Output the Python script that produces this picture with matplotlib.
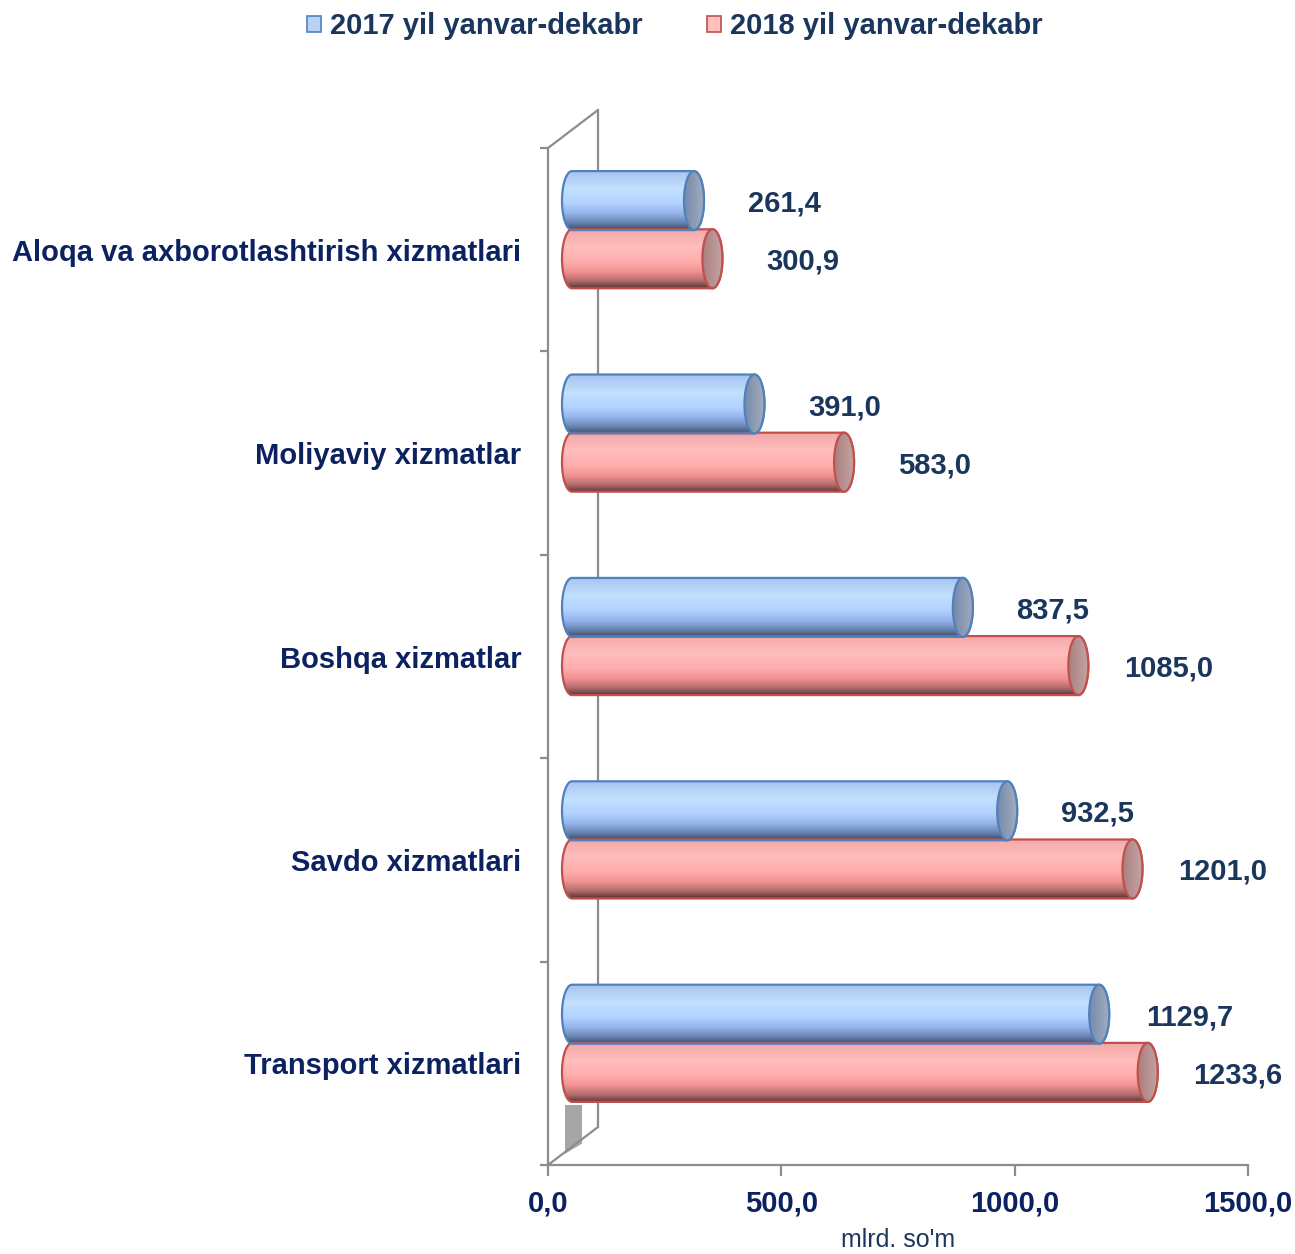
import numpy as np
import matplotlib
matplotlib.use("Agg")
import matplotlib.pyplot as plt
from matplotlib.patches import Ellipse, Patch, PathPatch, Polygon
from matplotlib.path import Path
from matplotlib.transforms import ScaledTranslation
from matplotlib.colors import LinearSegmentedColormap

plt.rcParams['font.family'] = ['Liberation Sans', 'DejaVu Sans']

# data
categories = ["Aloqa va axborotlashtirish xizmatlari", "Moliyaviy xizmatlar",
              "Boshqa xizmatlar", "Savdo xizmatlari", "Transport xizmatlari"]
series_names = ["2017 yil yanvar-dekabr", "2018 yil yanvar-dekabr"]
values_2017 = [261.4, 391.0, 837.5, 932.5, 1129.7]
values_2018 = [300.9, 583.0, 1085.0, 1201.0, 1233.6]
xticks = [0, 500, 1000, 1500]

navy = '#0B2160'
label_col = '#1B365D'
axis_col = '#8C8C8C'

# colours of the cylinders (top -> bottom)
blue_body = LinearSegmentedColormap.from_list('bb', [(0, '#A8C4EE'), (0.3, '#C3E0FF'), (0.55, '#B2D2FF'),
                                                     (0.72, '#94B4EC'), (0.88, '#6682AE'), (1, '#3A4A64')])
red_body = LinearSegmentedColormap.from_list('rb', [(0, '#F4A8A8'), (0.3, '#FFBDBD'), (0.55, '#FFADAD'),
                                                    (0.72, '#F29292'), (0.88, '#B26C6C'), (1, '#583636')])
blue_cap = LinearSegmentedColormap.from_list('bc', ['#7489AA', '#A3ADBD'])
red_cap = LinearSegmentedColormap.from_list('rc', ['#AA7E7E', '#C4A4A4'])

fig = plt.figure(figsize=(12.95, 12.54), dpi=100)
ax = fig.add_axes([548 / 1295, 89 / 1254, 700 / 1295, 1017 / 1254])
n = len(categories)
ax.set_xlim(0, 1500)
ax.set_ylim(n - 0.5, -0.5)

# 3d depth: bars sit half way into the wall
shift = ScaledTranslation(24 / 100, 20 / 100, fig.dpi_scale_trans)
tr = ax.transData + shift
px = 1500 / 700.0          # data units per pixel in x
a = 10 * px                # half width of the end ellipse
h = 0.29                   # bar thickness (category units)

grad_v = np.linspace(0, 1, 256).reshape(-1, 1)
grad_h = np.linspace(0, 1, 256).reshape(1, -1)


def cylinder(val, yc, body_cmap, cap_cmap, edge):
    x0, x1 = 0, val
    top, bot = yc - h / 2, yc + h / 2
    t1 = np.linspace(np.pi / 2, 3 * np.pi / 2, 40)
    t2 = np.linspace(-np.pi / 2, np.pi / 2, 40)
    left = np.column_stack([x0 + a * np.cos(t1), yc - h / 2 * np.sin(t1)])
    right = np.column_stack([x1 + a * np.cos(t2), yc - h / 2 * np.sin(t2)])
    verts = np.vstack([left, right, left[:1]])
    body = PathPatch(Path(verts, closed=True), transform=tr, facecolor='none',
                     edgecolor=edge, lw=1.6, zorder=3)
    img = ax.imshow(grad_v, cmap=body_cmap, extent=(x0 - a, x1 + a, bot, top),
                    origin='upper', aspect='auto', transform=tr, zorder=2.5,
                    interpolation='bilinear')
    img.set_clip_path(body)
    ax.add_patch(body)
    cap = Ellipse((x1, yc), 2 * a, h, transform=tr, facecolor='none',
                  edgecolor=edge, lw=1.6, zorder=3.2)
    cimg = ax.imshow(grad_h, cmap=cap_cmap, extent=(x1 - a, x1 + a, bot, top),
                     origin='upper', aspect='auto', transform=tr, zorder=3.1,
                     interpolation='bilinear')
    cimg.set_clip_path(cap)
    ax.add_patch(cap)


for i in range(n):
    # 2018 behind, 2017 drawn over it
    cylinder(values_2018[i], i + 0.143, red_body, red_cap, '#C0504D')
    cylinder(values_2017[i], i - 0.143, blue_body, blue_cap, '#4F81BD')
    for v, yc in ((values_2017[i], i - 0.143), (values_2018[i], i + 0.143)):
        ax.annotate(f"{v:.1f}".replace('.', ','), (v, yc), xycoords=tr,
                    xytext=(90, -3), textcoords='offset pixels', ha='center',
                    va='center', fontsize=21, fontweight='bold', color=label_col,
                    zorder=5)

ax.set_xlim(0, 1500)
ax.set_ylim(n - 0.5, -0.5)

# wall of the 3d frame
depth = ScaledTranslation(50 / 100, 38 / 100, fig.dpi_scale_trans)
wall = ax.transAxes + depth
ax.plot([0, 0], [0, 1], transform=wall, color=axis_col, lw=1.6, zorder=1, clip_on=False)
ax.annotate('', xy=(0, 1), xycoords=ax.transAxes, xytext=(0, 1), textcoords=wall,
            arrowprops=dict(arrowstyle='-', color=axis_col, lw=1.6, shrinkA=0, shrinkB=0))
ax.annotate('', xy=(0, 0), xycoords=ax.transAxes, xytext=(0, 0), textcoords=wall,
            arrowprops=dict(arrowstyle='-', color=axis_col, lw=1.6, shrinkA=0, shrinkB=0))
ax.add_patch(Polygon([(0.0243, 0.059), (0.0486, 0.059), (0.0486, 0.021), (0.0243, 0.011)],
                     closed=True, transform=ax.transAxes, facecolor='#A6A6A6',
                     edgecolor='none', zorder=1.5, clip_on=False))

# axes styling
for s in ('top', 'right'):
    ax.spines[s].set_visible(False)
for s in ('left', 'bottom'):
    ax.spines[s].set_color(axis_col)
    ax.spines[s].set_linewidth(1.6)

ax.set_xticks(xticks)
ax.set_xticklabels([f"{t:.1f}".replace('.', ',') for t in xticks])
ax.tick_params(axis='x', length=8, width=1.6, color=axis_col, pad=10,
               labelsize=21, labelcolor=navy)
for lab in ax.get_xticklabels():
    lab.set_fontweight('bold')

ax.set_yticks(np.arange(n + 1) - 0.5)
ax.set_yticklabels([])
ax.tick_params(axis='y', which='major', length=6, width=1.6, color=axis_col)
ax.set_yticks(np.arange(n), minor=True)
ax.set_yticklabels(categories, minor=True)
ax.tick_params(axis='y', which='minor', length=0, pad=19, labelsize=21, labelcolor=navy)
for lab in ax.get_yticklabels(minor=True):
    lab.set_fontweight('bold')

ax.set_xlabel("mlrd. so'm", fontsize=18, color=label_col, labelpad=7)
ax.patch.set_visible(False)

handles = [Patch(facecolor='#B9D3F5', edgecolor='#4F81BD', lw=1.2),
           Patch(facecolor='#FFC0C0', edgecolor='#C0504D', lw=1.2)]
fig.legend(handles, series_names, loc='upper center', bbox_to_anchor=(0.521, 1.011),
           ncol=2, frameon=False, handlelength=0.5, handleheight=0.5,
           columnspacing=2.2, handletextpad=0.3,
           prop=dict(size=21, weight='bold'), labelcolor=label_col)

fig.savefig('out.png', dpi=100)
